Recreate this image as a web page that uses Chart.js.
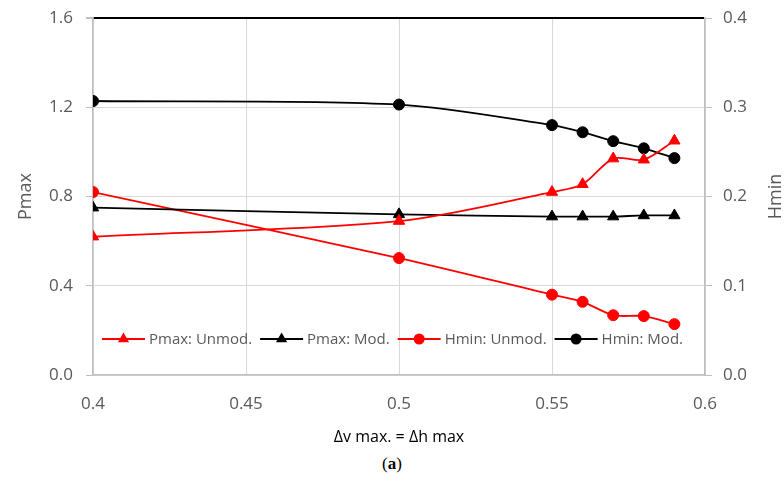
<!DOCTYPE html>
<html>
<head>
<meta charset="utf-8">
<script src="https://cdn.jsdelivr.net/npm/chart.js@4.4.1/dist/chart.umd.min.js"></script>
<style>
  body { margin: 0; background: #fff; }
  #wrap { width: 784px; height: 455px; position: relative; }
  #caption { width: 784px; text-align: center; font: 17px "Liberation Serif", "DejaVu Serif", serif; line-height: 18px; color: #000; }
</style>
</head>
<body>
<div id="wrap"><canvas id="chart"></canvas></div>
<div id="caption">(<b>a</b>)</div>
<script>
// x values: delta v max = delta h max
const xValues = [0.4, 0.5, 0.55, 0.56, 0.57, 0.58, 0.59];

// left axis (Pmax)
const pmaxUnmod = [0.62, 0.69, 0.82, 0.855, 0.97, 0.965, 1.05];
const pmaxMod   = [0.75, 0.72, 0.71, 0.71, 0.71, 0.715, 0.715];

// right axis (Hmin)
const hminUnmod = [0.205, 0.131, 0.090, 0.082, 0.067, 0.066, 0.057];
const hminMod   = [0.307, 0.303, 0.280, 0.272, 0.262, 0.254, 0.243];

const xTicks = [0.4, 0.45, 0.5, 0.55, 0.6];
const leftTicks = [0, 0.4, 0.8, 1.2, 1.6];
const rightTicks = [0, 0.1, 0.2, 0.3, 0.4];

const seriesNames = ['Pmax: Unmod.', 'Pmax: Mod.', 'Hmin: Unmod.', 'Hmin: Mod.'];

const GRAY_TEXT = '#595959';
const GRID = '#d9d9d9';
const AXIS = '#bfbfbf';

function toPoints(ys) {
    return xValues.map((x, i) => ({ x: x, y: ys[i] }));
}

function makeSet(label, ys, color, style, axis) {
    return {
        label: label,
        data: toPoints(ys),
        yAxisID: axis,
        borderColor: color,
        backgroundColor: color,
        borderWidth: 1.8,
        pointStyle: style,
        pointRadius: style === 'triangle' ? 6.5 : 5.5,
        pointHoverRadius: style === 'triangle' ? 6.5 : 5.5,
        pointBorderWidth: 1,
        tension: 0.3
    };
}

// vertical axes: fixed width, and no extra top/bottom room for the labels
function fixVertical(width) {
    return s => {
        s.width = width;
        s.paddingTop = 0;
        s.paddingBottom = 0;
    };
}

// legend drawn inside the plot area, Excel style (line + marker)
const insideLegend = {
    id: 'insideLegend',
    afterDraw(chart) {
        const ctx = chart.ctx;
        const area = chart.chartArea;
        const y = area.bottom - 36;
        let x = area.left + 9;
        ctx.save();
        ctx.font = '15px "Open Sans"';
        ctx.textBaseline = 'middle';
        chart.data.datasets.forEach(ds => {
            ctx.strokeStyle = ds.borderColor;
            ctx.lineWidth = 1.8;
            ctx.beginPath();
            ctx.moveTo(x, y);
            ctx.lineTo(x + 43, y);
            ctx.stroke();
            ctx.fillStyle = ds.backgroundColor;
            Chart.helpers.drawPoint(ctx, {
                pointStyle: ds.pointStyle,
                radius: ds.pointRadius,
                rotation: 0,
                borderWidth: 0
            }, x + 21.5, y);
            ctx.fillStyle = GRAY_TEXT;
            ctx.fillText(ds.label, x + 47, y + 1);
            x += 47 + ctx.measureText(ds.label).width + 8;
        });

        // right axis title, reading bottom to top like the left one
        const r = chart.scales.y2;
        ctx.font = '18px "Open Sans"';
        ctx.textAlign = 'center';
        ctx.textBaseline = 'alphabetic';
        ctx.translate(r.right - 3, (area.top + area.bottom) / 2);
        ctx.rotate(-Math.PI / 2);
        ctx.fillStyle = GRAY_TEXT;
        ctx.fillText('Hmin', 0, 0);
        ctx.restore();
    }
};

const chart = new Chart(document.getElementById('chart'), {
    type: 'line',
    data: {
        datasets: [
            makeSet(seriesNames[0], pmaxUnmod, '#ff0000', 'triangle', 'y'),
            makeSet(seriesNames[1], pmaxMod, '#000000', 'triangle', 'y'),
            makeSet(seriesNames[2], hminUnmod, '#ff0000', 'circle', 'y2'),
            makeSet(seriesNames[3], hminMod, '#000000', 'circle', 'y2')
        ]
    },
    options: {
        responsive: true,
        maintainAspectRatio: false,
        animation: false,
        layout: { padding: { top: 18, left: 0, right: 0, bottom: 0 } },
        plugins: {
            legend: { display: false },
            tooltip: { enabled: false }
        },
        scales: {
            x: {
                type: 'linear',
                min: 0.4,
                max: 0.6,
                afterBuildTicks: s => { s.ticks = xTicks.map(v => ({ value: v })); },
                afterFit: s => { s.height = 80; },
                ticks: {
                    color: GRAY_TEXT,
                    font: { family: 'Open Sans', size: 17 },
                    padding: 19,
                    callback: v => String(v)
                },
                grid: { color: GRID, drawTicks: false },
                border: { color: AXIS, width: 1.5 },
                title: {
                    display: true,
                    text: 'Δv max. = Δh max',
                    color: '#000',
                    font: { family: 'Open Sans', size: 16 },
                    padding: { top: 0, bottom: 8 }
                }
            },
            y: {
                position: 'left',
                min: 0,
                max: 1.6,
                afterBuildTicks: s => { s.ticks = leftTicks.map(v => ({ value: v })); },
                afterFit: fixVertical(93),
                ticks: {
                    color: GRAY_TEXT,
                    font: { family: 'Open Sans', size: 17 },
                    padding: 13,
                    callback: v => v.toFixed(1)
                },
                grid: {
                    color: c => (c.tick && c.tick.value === 1.6) ? '#000' : GRID,
                    lineWidth: c => (c.tick && c.tick.value === 1.6) ? 2 : 1,
                    tickColor: AXIS,
                    tickLength: 7
                },
                border: { color: AXIS, width: 1.5 },
                title: {
                    display: true,
                    text: 'Pmax',
                    color: GRAY_TEXT,
                    font: { family: 'Open Sans', size: 18 },
                    padding: { top: 15, bottom: 0 }
                }
            },
            y2: {
                position: 'right',
                min: 0,
                max: 0.4,
                afterBuildTicks: s => { s.ticks = rightTicks.map(v => ({ value: v })); },
                afterFit: fixVertical(79),
                ticks: {
                    color: GRAY_TEXT,
                    font: { family: 'Open Sans', size: 17 },
                    padding: 11,
                    callback: v => v.toFixed(1)
                },
                grid: { drawOnChartArea: false, tickColor: AXIS, tickLength: 7 },
                border: { color: AXIS, width: 1.5 }
            }
        }
    },
    plugins: [insideLegend]
});
</script>
</body>
</html>
